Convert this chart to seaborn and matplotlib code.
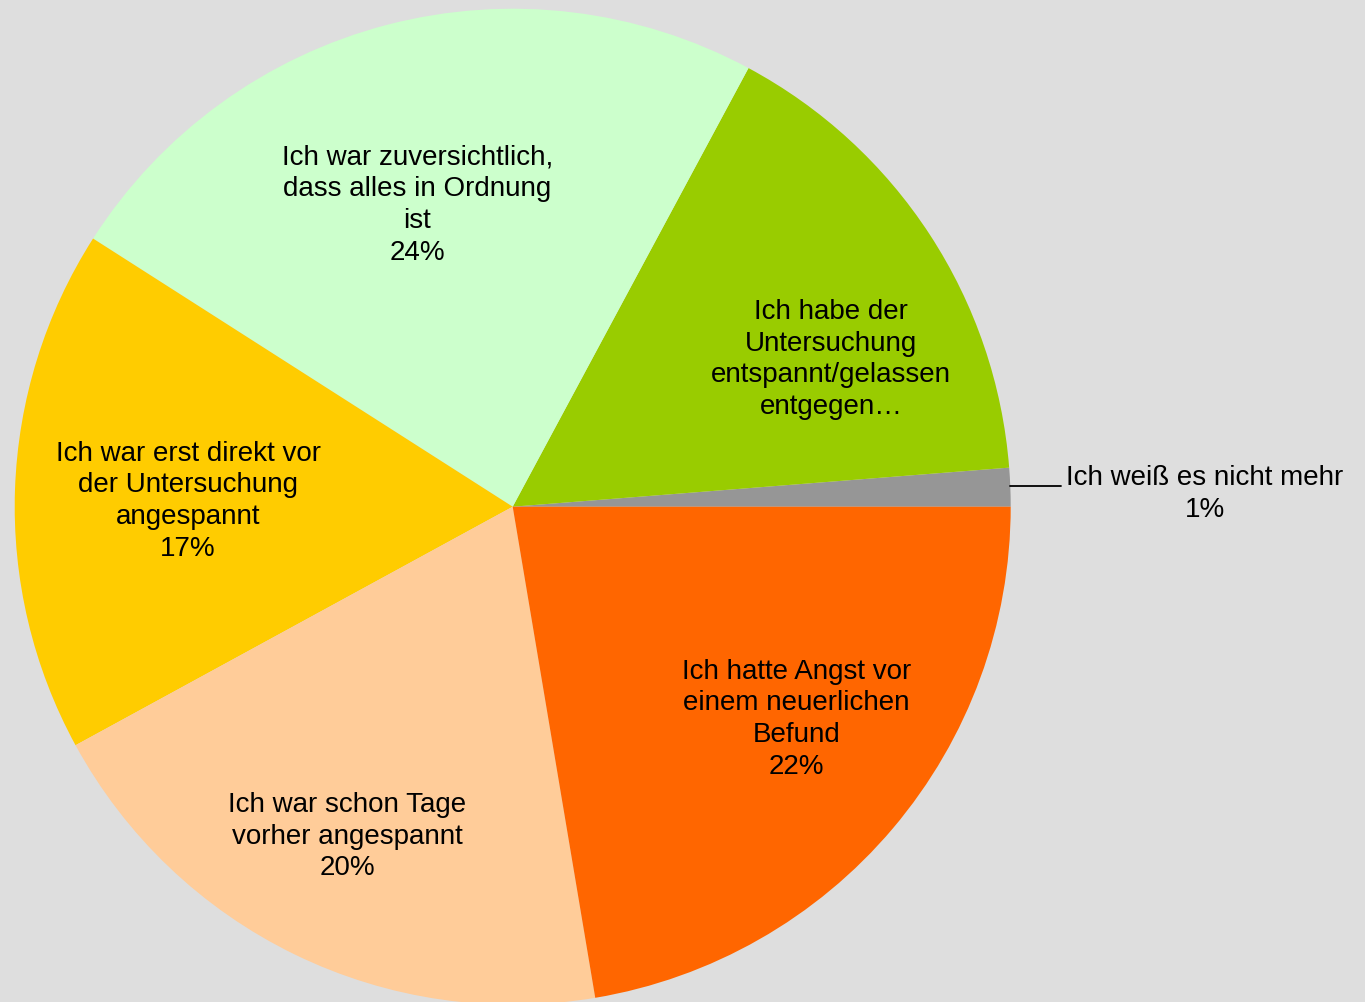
import numpy as np
import matplotlib
matplotlib.use('Agg')
import matplotlib.pyplot as plt
import seaborn as sns

# Anteile (gegen den Uhrzeigersinn ab 3 Uhr)
labels = [
    'Ich weiß es nicht mehr',
    'Ich habe der\nUntersuchung\nentspannt/gelassen\nentgegen…',
    'Ich war zuversichtlich,\ndass alles in Ordnung\nist',
    'Ich war erst direkt vor\nder Untersuchung\nangespannt',
    'Ich war schon Tage\nvorher angespannt',
    'Ich hatte Angst vor\neinem neuerlichen\nBefund',
]
values = [1.25, 15.9, 23.8, 17.0, 19.7, 22.35]
show_pct = [True, False, True, True, True, True]
colors = ['#969696', '#99CC00', '#CCFFCC', '#FFCC00', '#FFCC99', '#FF6600']

# label placement: radius and angle shift relative to wedge middle
label_r = [1.39, 0.704, 0.635, 0.652, 0.741, 0.712]
label_shift = [-1.2, -8.3, 3.0, 1.0, -0.7, 3.4]

bg = '#DEDEDE'
sns.set_theme(style='white')
plt.rcParams['font.family'] = ['Liberation Sans', 'DejaVu Sans']

fig = plt.figure(figsize=(13.65, 10.02), dpi=100, facecolor=bg)
ax = fig.add_axes([0.01077, -0.0027, 0.72967, 0.99401])
ax.set_facecolor(bg)

wedges, _ = ax.pie(values, colors=sns.color_palette(colors), startangle=0,
                   counterclock=True, radius=1.0,
                   wedgeprops=dict(linewidth=0, edgecolor='none'))
ax.set_xlim(-1, 1)
ax.set_ylim(-1, 1)
ax.set_aspect('equal')
ax.axis('off')

total = sum(values)
for i, w in enumerate(wedges):
    mid = np.deg2rad((w.theta1 + w.theta2) / 2 + label_shift[i])
    x = label_r[i] * np.cos(mid)
    y = label_r[i] * np.sin(mid)
    txt = labels[i]
    if show_pct[i]:
        txt += '\n{:.0f}%'.format(values[i] / total * 100)
    ax.text(x, y, txt, ha='center', va='center', fontsize=20,
            linespacing=1.28, color='black', clip_on=False)

# leader line for the small slice
w = wedges[0]
ang = np.deg2rad((w.theta1 + w.theta2) / 2 + 0.1)
ax.plot([np.cos(ang), 1.101], [np.sin(ang), np.sin(ang)],
        color='black', linewidth=1.3, clip_on=False)

fig.savefig('out.png', dpi=100, facecolor=bg)
